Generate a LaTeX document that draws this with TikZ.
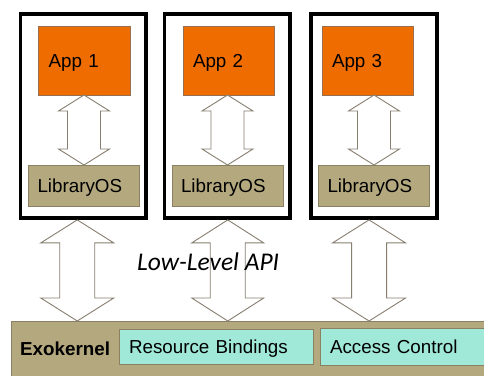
\documentclass[tikz,border=0pt]{standalone}
\usepackage{fontspec}
\setmainfont{Liberation Sans}
\newfontfamily\apifont{Carlito}
\usetikzlibrary{calc}

\definecolor{apporange}{RGB}{238,108,0}
\definecolor{appedge}{RGB}{150,112,80}
\definecolor{libtan}{RGB}{179,168,126}
\definecolor{tanedge}{RGB}{138,128,98}
\definecolor{bindcyan}{RGB}{160,232,216}
\definecolor{arrowgray}{RGB}{135,126,112}

\tikzset{
  labelfont/.style={font=\fontsize{18.8}{22}\selectfont, text height=13.4pt, text depth=0pt},
  domainbox/.style={draw=black, line width=3.8pt, fill=white, anchor=north west,
    minimum width=125.5pt, minimum height=204pt, inner sep=0pt},
  appbox/.style={labelfont, draw=appedge, line width=0.8pt, fill=apporange,
    anchor=north west, inner xsep=10pt, text width=71.5pt, align=left,
    minimum height=69pt, outer sep=0pt},
  libbox/.style={labelfont, draw=tanedge, line width=0.8pt, fill=libtan,
    anchor=north west, inner xsep=9pt, text width=93pt, align=left,
    minimum height=41pt, outer sep=0pt},
  kernelbar/.style={draw=tanedge, line width=0.8pt, fill=libtan,
    anchor=north west, minimum width=490pt, minimum height=60pt, outer sep=0pt},
  partbox/.style={labelfont, draw=tanedge, line width=0.8pt, fill=bindcyan,
    anchor=north west, inner xsep=10pt, align=left, outer sep=0pt},
  arrowline/.style={draw=arrowgray, line width=0.9pt, fill=white, line join=miter},
}

% Hollow double-headed block arrow: x from the first point, y from both points
\newcommand\blockarrow[5]{%
  \draw[arrowline] let \p1=(#1), \p2=(#2) in
    (\x1,\y1) -- (\x1-#4,\y1-#5) -- (\x1-#3,\y1-#5) -- (\x1-#3,\y2+#5)
    -- (\x1-#4,\y2+#5) -- (\x1,\y2) -- (\x1+#4,\y2+#5) -- (\x1+#3,\y2+#5)
    -- (\x1+#3,\y1-#5) -- (\x1+#4,\y1-#5) -- cycle;}

\begin{document}
\begin{tikzpicture}[x=1pt, y=-1pt]
  \useasboundingbox (0,0) rectangle (484,375);
  \clip (0,0) rectangle (484,375);

  % kernel layer
  \node[kernelbar] (exo) at (11,321) {};
  \node[font=\fontsize{18.8}{22}\selectfont\bfseries, anchor=base west,
    inner sep=0pt] (exolabel) at (20,355) {Exokernel};
  \node[partbox, text width=174pt, minimum height=35pt] (bind) at (119,329) {Resource Bindings};
  \node[partbox, text width=160pt, minimum height=37pt] (acl) at (320,328) {Access Control};

  % protection domains
  \node[domainbox] (d1) at (18.6,12.1) {};
  \node[domainbox] (d2) at (162.6,12.1) {};
  \node[domainbox] (d3) at (309.4,12.1) {};

  % applications
  \node[appbox] (app1) at (38.7,26) {App 1};
  \node[appbox] (app2) at (183,26) {App 2};
  \node[appbox] (app3) at (322,26) {App 3};

  % library operating systems
  \node[libbox] (lib1) at (28.5,165) {LibraryOS};
  \node[libbox] (lib2) at (172,165) {LibraryOS};
  \node[libbox] (lib3) at (318.5,165) {LibraryOS};

  % application <-> library OS
  \blockarrow{lib1.north |- app1.south}{lib1.north}{16.5pt}{25.5pt}{16pt}
  \blockarrow{lib2.north |- app2.south}{lib2.north}{16.5pt}{25.5pt}{16pt}
  \blockarrow{lib3.north |- app3.south}{lib3.north}{16.5pt}{25.5pt}{16pt}

  % library OS <-> exokernel
  \blockarrow{$(d1.south)+(-6,0)$}{exo.north}{17.5pt}{36.5pt}{23pt}
  \blockarrow{$(d2.south)+(0.5,0)$}{exo.north}{17.5pt}{36pt}{23pt}
  \blockarrow{$(d3.south)+(-5,0)$}{exo.north}{17.5pt}{36.5pt}{23pt}

  \node[anchor=base west, inner sep=0pt, font=\apifont\itshape\fontsize{25.5}{30}\selectfont]
    (api) at (137,270) {Low-Level API};
\end{tikzpicture}
\end{document}
